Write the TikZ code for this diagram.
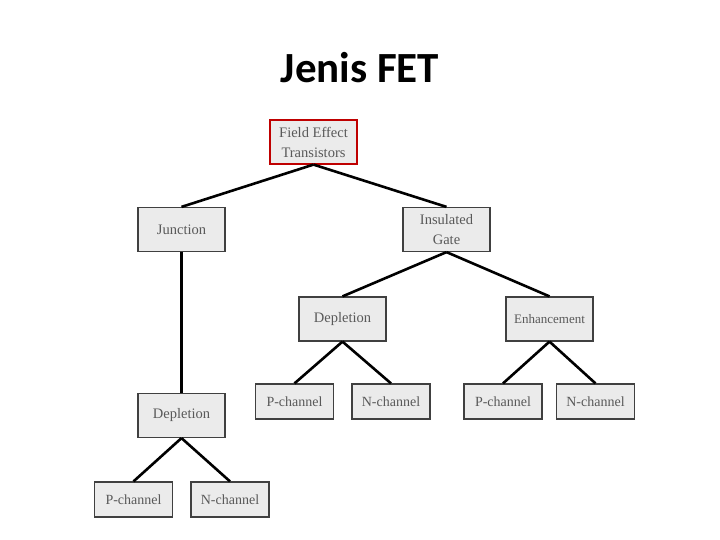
\documentclass[tikz,border=0pt]{standalone}
\usepackage{fontspec}
\usepackage{xcolor}
\usepackage{tikz}
\setmainfont{Liberation Serif}
\newfontfamily\titlefont{Carlito}

\tikzset{
  fetbox/.style={draw=black!75, line width=1.2pt, fill=black!8, text=black!65,
    minimum width=87pt, minimum height=44pt, inner sep=1pt, align=center,
    font=\fontsize{14.5}{20}\selectfont},
  chanbox/.style={fetbox, minimum width=78pt, minimum height=35pt,
    font=\fontsize{14}{18}\selectfont},
  rootbox/.style={fetbox, draw=red!75!black},
  branch/.style={line width=2.6pt, black}
}

\begin{document}
\begin{tikzpicture}[x=1pt,y=-1pt]
\useasboundingbox (0,0) rectangle (720,540);
\node (title) at (360,68) {\titlefont\bfseries\fontsize{43}{48}\selectfont Jenis FET};
\node[rootbox] (fet) at (313.5,142) {Field Effect\\Transistors};
\node[fetbox] (junction) at (181.5,229.5) {Junction};
\node[fetbox] (insulated) at (446.5,229.5) {Insulated\\Gate};
\node[fetbox] (depR) at (342.5,319) {Depletion};
\node[fetbox] (enh) at (549.5,319) {\fontsize{13}{15}\selectfont Enhancement};
\node[chanbox] (pR) at (294.5,401.5) {P-channel};
\node[chanbox] (nR) at (391,401.5) {N-channel};
\node[chanbox] (pE) at (503,401.5) {P-channel};
\node[chanbox] (nE) at (595.5,401.5) {N-channel};
\node[fetbox] (depL) at (181.5,415.5) {Depletion};
\node[chanbox] (pL) at (133.5,499.5) {P-channel};
\node[chanbox] (nL) at (230,499.5) {N-channel};

\draw[branch] (fet.south) -- (junction.north);
\draw[branch] (fet.south) -- (insulated.north);
\draw[branch] (insulated.south) -- (depR.north);
\draw[branch] (insulated.south) -- (enh.north);
\draw[branch] (depR.south) -- (pR.north);
\draw[branch] (depR.south) -- (nR.north);
\draw[branch] (enh.south) -- (pE.north);
\draw[branch] (enh.south) -- (nE.north);
\draw[branch] (junction.south) -- (depL.north);
\draw[branch] (depL.south) -- (pL.north);
\draw[branch] (depL.south) -- (nL.north);
\end{tikzpicture}
\end{document}
